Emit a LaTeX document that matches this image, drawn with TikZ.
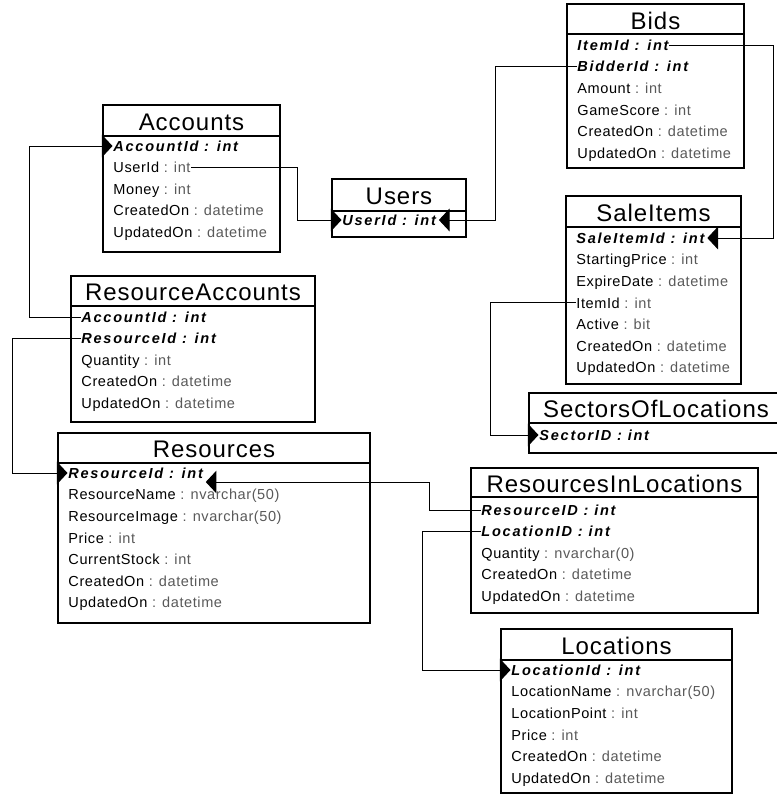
\documentclass[tikz,border=0pt]{standalone}
\usepackage{fontspec}
\usepackage{xcolor}
\usepackage{tikz}
\usetikzlibrary{arrows.meta}
\usetikzlibrary{calc}
\usetikzlibrary{positioning}

\setmainfont{Liberation Sans}
\newfontfamily\rowfont[LetterSpace=4]{Liberation Sans}
\newfontfamily\keyfont[LetterSpace=12]{Liberation Sans}
\newfontfamily\ttlfont[LetterSpace=4]{Liberation Sans}
\definecolor{typegray}{gray}{0.35}
\newcommand{\ty}[1]{\textcolor{typegray}{#1}}

\begin{document}
\begin{tikzpicture}[x=0.75pt, y=-0.75pt, >=Latex]
		\tikzset{
			tbl/.style={draw=black, line width=0.8pt},
			ttl/.style={font=\ttlfont\fontsize{18}{20}\selectfont, inner sep=0pt, text height=12.9pt, text depth=0pt},
			fld/.style={anchor=west, font=\rowfont\fontsize{10.9}{13}\selectfont, inner xsep=0.5pt, inner ysep=0pt, text height=7.8pt, text depth=0pt},
			key/.style={fld, font=\keyfont\bfseries\itshape\fontsize{10.9}{13}\selectfont},
			fk/.style={-{Triangle[length=8pt,width=17pt]}, line width=0.75pt},
		}
		\useasboundingbox (0,0) rectangle (777,794);
		\clip (0,0) rectangle (777,794);
		
		% Accounts
		\draw[tbl] (103,105) rectangle (280,252);
		\draw[tbl] (103,136) -- (280,136);
		\node[ttl] (accounts) at (191.5,121.5) {Accounts};
		\node[key] (accAccountId) at (112.5,146) {AccountId : int};
		\node[fld] (accUserId) at (112.5,167.5) {UserId \ty{: int}};
		\node[fld] (accMoney) at (112.5,189) {Money \ty{: int}};
		\node[fld] (accCreatedOn) at (112.5,210.5) {CreatedOn \ty{: datetime}};
		\node[fld] (accUpdatedOn) at (112.5,232) {UpdatedOn \ty{: datetime}};
		
		% Bids
		\draw[tbl] (567,4) rectangle (744,168);
		\draw[tbl] (567,34) -- (744,34);
		\node[ttl] (bids) at (655.5,21) {Bids};
		\node[key] (bidItemId) at (576.5,45) {ItemId : int};
		\node[key] (bidBidderId) at (576.5,66.6) {BidderId : int};
		\node[fld] (bidAmount) at (576.5,88.2) {Amount \ty{: int}};
		\node[fld] (bidGameScore) at (576.5,109.8) {GameScore \ty{: int}};
		\node[fld] (bidCreatedOn) at (576.5,131.4) {CreatedOn \ty{: datetime}};
		\node[fld] (bidUpdatedOn) at (576.5,153) {UpdatedOn \ty{: datetime}};
		
		% Users
		\draw[tbl] (332,179) rectangle (466,237);
		\draw[tbl] (332,211) -- (466,211);
		\node[ttl] (users) at (399,196) {Users};
		\node[key] (usrUserId) at (341.5,220) {UserId : int};
		
		% SaleItems
		\draw[tbl] (566,196) rectangle (741,384);
		\draw[tbl] (566,227) -- (741,227);
		\node[ttl] (saleitems) at (653.5,212.5) {SaleItems};
		\node[key] (salSaleItemId) at (575.5,238) {SaleItemId : int};
		\node[fld] (salStartingPrice) at (575.5,259.6) {StartingPrice \ty{: int}};
		\node[fld] (salExpireDate) at (575.5,281.2) {ExpireDate \ty{: datetime}};
		\node[fld] (salItemId) at (575.5,302.8) {ItemId \ty{: int}};
		\node[fld] (salActive) at (575.5,324.4) {Active \ty{: bit}};
		\node[fld] (salCreatedOn) at (575.5,346) {CreatedOn \ty{: datetime}};
		\node[fld] (salUpdatedOn) at (575.5,367.6) {UpdatedOn \ty{: datetime}};
		
		% SectorsOfLocations
		\draw[tbl] (529,393) rectangle (783,453);
		\draw[tbl] (529,423) -- (783,423);
		\node[ttl] (sectors) at (656,409) {SectorsOfLocations};
		\node[key] (secSectorID) at (538.5,435) {SectorID : int};
		
		% ResourceAccounts
		\draw[tbl] (71,276) rectangle (315,422);
		\draw[tbl] (71,306) -- (315,306);
		\node[ttl] (resaccounts) at (193,292) {ResourceAccounts};
		\node[key] (raAccountId) at (80.5,317) {AccountId : int};
		\node[key] (raResourceId) at (80.5,338.5) {ResourceId : int};
		\node[fld] (raQuantity) at (80.5,360) {Quantity \ty{: int}};
		\node[fld] (raCreatedOn) at (80.5,381.5) {CreatedOn \ty{: datetime}};
		\node[fld] (raUpdatedOn) at (80.5,403) {UpdatedOn \ty{: datetime}};
		
		% Resources
		\draw[tbl] (58,433) rectangle (370,623);
		\draw[tbl] (58,463) -- (370,463);
		\node[ttl] (resources) at (214,449) {Resources};
		\node[key] (resResourceId) at (67.5,473) {ResourceId : int};
		\node[fld] (resResourceName) at (67.5,494.6) {ResourceName \ty{: nvarchar(50)}};
		\node[fld] (resResourceImage) at (67.5,516.2) {ResourceImage \ty{: nvarchar(50)}};
		\node[fld] (resPrice) at (67.5,537.8) {Price \ty{: int}};
		\node[fld] (resCurrentStock) at (67.5,559.4) {CurrentStock \ty{: int}};
		\node[fld] (resCreatedOn) at (67.5,581) {CreatedOn \ty{: datetime}};
		\node[fld] (resUpdatedOn) at (67.5,602.6) {UpdatedOn \ty{: datetime}};
		
		% ResourcesInLocations
		\draw[tbl] (471,468) rectangle (758,613);
		\draw[tbl] (471,497) -- (758,497);
		\node[ttl] (resinloc) at (614.5,483.5) {ResourcesInLocations};
		\node[key] (rilResourceID) at (480.5,510) {ResourceID : int};
		\node[key] (rilLocationID) at (480.5,531.5) {LocationID : int};
		\node[fld] (rilQuantity) at (480.5,553) {Quantity \ty{: nvarchar(0)}};
		\node[fld] (rilCreatedOn) at (480.5,574.5) {CreatedOn \ty{: datetime}};
		\node[fld] (rilUpdatedOn) at (480.5,596) {UpdatedOn \ty{: datetime}};
		
		% Locations
		\draw[tbl] (501,629) rectangle (732,793);
		\draw[tbl] (501,660) -- (732,660);
		\node[ttl] (locations) at (616.5,645.5) {Locations};
		\node[key] (locLocationId) at (510.5,670) {LocationId : int};
		\node[fld] (locLocationName) at (510.5,691.6) {LocationName \ty{: nvarchar(50)}};
		\node[fld] (locLocationPoint) at (510.5,713.2) {LocationPoint \ty{: int}};
		\node[fld] (locPrice) at (510.5,734.8) {Price \ty{: int}};
		\node[fld] (locCreatedOn) at (510.5,756.4) {CreatedOn \ty{: datetime}};
		\node[fld] (locUpdatedOn) at (510.5,778) {UpdatedOn \ty{: datetime}};
		
		% columns of the vertical runs
		\coordinate (colUser) at (297,0);
		\coordinate (colBid) at (495,0);
		\coordinate (colItem) at (773,0);
		\coordinate (colSector) at (490,0);
		\coordinate (colAcc) at (29,0);
		\coordinate (colRes) at (12,0);
		\coordinate (colRil) at (429,0);
		\coordinate (colLoc) at (422,0);
		
		\draw[fk] (accUserId.east) -- (accUserId.east -| colUser) |- (usrUserId.west);
		\draw[fk] (bidBidderId.west) -- (bidBidderId.west -| colBid) |- ($(usrUserId.east)+(2,0)$);
		\draw[fk] (bidItemId.east) -- (bidItemId.east -| colItem) |- ($(salSaleItemId.east)+(2,0)$);
		\draw[fk] (salItemId.west) -- (salItemId.west -| colSector) |- (secSectorID.west);
		\draw[fk] (raAccountId.west) -- (raAccountId.west -| colAcc) |- (accAccountId.west);
		\draw[fk] (raResourceId.west) -- (raResourceId.west -| colRes) |- (resResourceId.west);
		\draw[fk] (rilResourceID.west) -- (rilResourceID.west -| colRil) |- ($(resResourceId.east)+(2,9)$);
		\draw[fk] (rilLocationID.west) -- (rilLocationID.west -| colLoc) |- (locLocationId.west);
	\end{tikzpicture}
\end{document}
